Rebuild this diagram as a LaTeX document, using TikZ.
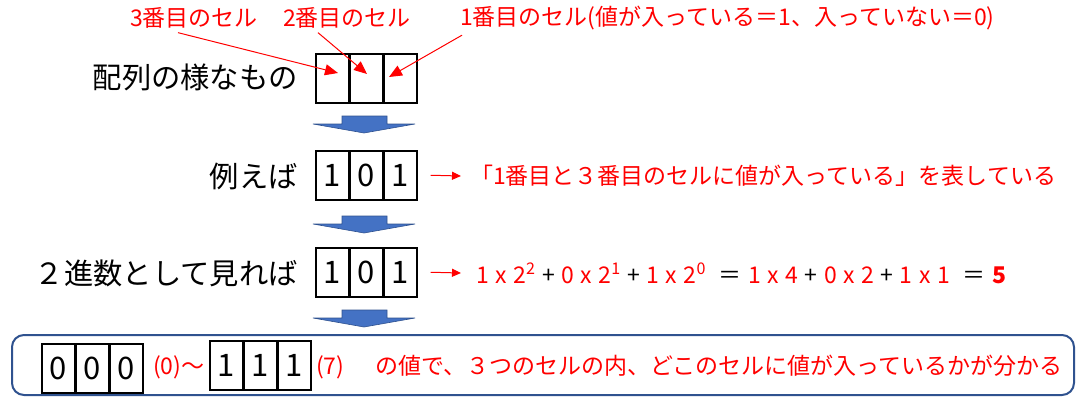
\documentclass[tikz,border=0pt]{standalone}
\usepackage{fontspec}
\setmainfont{Noto Sans CJK JP}
\usetikzlibrary{arrows.meta}
\definecolor{myred}{HTML}{FF0000}
\definecolor{arrowblue}{HTML}{4472C4}
\definecolor{arrowedge}{HTML}{2F528F}
\tikzset{
  rowlabel/.style={font=\fontsize{29.3}{31}\selectfont, inner sep=0pt, anchor=east, text=black},
  redtext/.style={text=myred, font=\fontsize{23}{25}\selectfont, inner sep=0pt, anchor=west},
  cell/.style={draw=black, line width=1.5pt, minimum width=32.7pt, minimum height=49pt, inner sep=0pt, font=\fontsize{31}{33}\selectfont, anchor=north west},
  redarrow/.style={draw=myred, line width=1pt, -{Triangle[length=13pt,width=11pt]}},
  smallredarrow/.style={draw=myred, line width=1pt, -{Triangle[length=9pt,width=8pt]}},
  bluearrow/.style={fill=arrowblue, draw=arrowedge, line width=0.6pt},
  frame/.style={draw=arrowedge, line width=2pt, rounded corners=12pt},
  pics/downarr/.style={code={
    \path[bluearrow] (-22,0) -- (23,0) -- (23,8) -- (51,8) -- (0,17) -- (-51,8) -- (-22,8) -- cycle;}},
}
\begin{document}
\begin{tikzpicture}[x=1pt,y=-1pt]
\useasboundingbox (0,0) rectangle (1080,402);

% top labels
\node[redtext] (lab3) at (130,18) {3番目のセル};
\node[redtext] (lab2) at (283,18) {2番目のセル};
\node[redtext] (lab1) at (460,18) {1番目のセル(値が入っている＝1、入っていない＝0)};

% row 1
\node[rowlabel] (r1) at (298,77) {配列の様なもの};
\node[cell] (a1) at (315,53) {};
\node[cell] (a2) at (a1.north east) {};
\node[cell] (a3) at (a2.north east) {};
\coordinate (t3) at (338,73);
\coordinate (t2) at (367,74);
\coordinate (t1) at (389,77);
\draw[redarrow] ([xshift=48pt,yshift=-4pt]lab3.south west) -- (t3);
\draw[redarrow] ([xshift=35pt,yshift=-4pt]lab2.south west) -- (t2);
\draw[redarrow] ([xshift=2pt,yshift=-5pt]lab1.south west) -- (t1);

\pic at (364,116) {downarr};

% row 2
\node[rowlabel] (r2) at (298,176) {例えば};
\node[cell] (b1) at (315,150) {1};
\node[cell] (b2) at (b1.north east) {0};
\node[cell] (b3) at (b2.north east) {1};
\node[redtext] (txt2) at (470,176) {「1番目と３番目のセルに値が入っている」を表している};
\draw[smallredarrow] ([xshift=13pt]b3.east) -- ([xshift=-9pt]txt2.west);

\pic at (364,216) {downarr};

% row 3
\node[rowlabel] (r3) at (298,273) {２進数として見れば};
\node[cell] (c1) at (315,247) {1};
\node[cell] (c2) at (c1.north east) {0};
\node[cell] (c3) at (c2.north east) {1};
\node[redtext] (txt3) at (476,273) {\spaceskip=6.5pt 1 x 2\textsuperscript{2} {\color{black}+} 0 x 2\textsuperscript{1} {\color{black}+} 1 x 2\textsuperscript{0} \ {\color{black}＝} 1 x 4 {\color{black}+} 0 x 2 {\color{black}+} 1 x 1 \ {\color{black}＝} \textbf{5}};
\draw[smallredarrow] ([xshift=13pt]c3.east) -- ([xshift=-15pt]txt3.west);

\pic at (364,310) {downarr};

% bottom frame
\draw[frame] (12,335) rectangle (1074,395);
\node[cell] (d1) at (41,343) {0};
\node[cell] (d2) at (d1.north east) {0};
\node[cell] (d3) at (d2.north east) {0};
\node[redtext] (rng) at (153,367) {(0)～};
\node[cell] (e1) at (209,340) {1};
\node[cell] (e2) at (e1.north east) {1};
\node[cell] (e3) at (e2.north east) {1};
\node[redtext] (txt4) at (316,367) {(7)\hspace{8pt}　の値で、３つのセルの内、どこのセルに値が入っているかが分かる};
\end{tikzpicture}
\end{document}
